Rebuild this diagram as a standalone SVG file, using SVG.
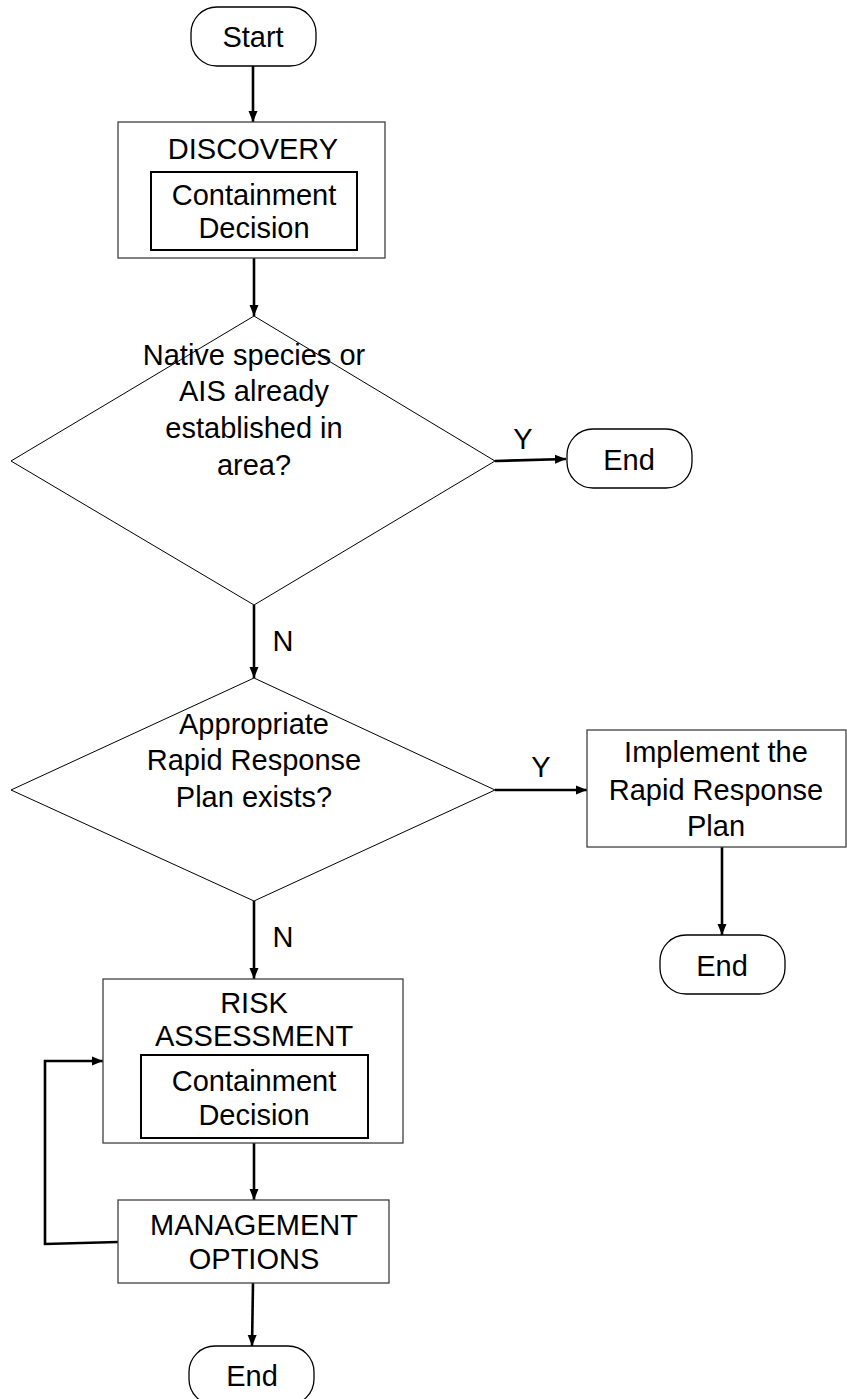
<svg xmlns="http://www.w3.org/2000/svg" width="847" height="1399" viewBox="0 0 847 1399">
  <style>
    text { font-family: "Liberation Sans", Arial, sans-serif; font-size: 29px; fill: #000; text-anchor: middle; dominant-baseline: central; }
    .box { fill: #fff; stroke: #404040; stroke-width: 1.3; }
    .inner { fill: #fff; stroke: #000; stroke-width: 2; }
    .term { fill: #fff; stroke: #000; stroke-width: 1.3; }
    .dia { fill: #fff; stroke: #000; stroke-width: 1; }
    .edge { fill: none; stroke: #000; stroke-width: 2.6; marker-end: url(#arrow); }
  </style>
  <defs>
    <marker id="arrow" markerUnits="userSpaceOnUse" markerWidth="12" markerHeight="12" viewBox="0 0 12 12" refX="11" refY="6" orient="auto">
      <path d="M0,1.5 L11,6 L0,10.5 Z" fill="#000"/>
    </marker>
  </defs>

  <!-- connectors and their Y/N labels -->
  <g id="connectors">
    <line class="edge" x1="253" y1="66" x2="253" y2="122"/>
    <line class="edge" x1="254" y1="258" x2="254" y2="316"/>
    <line class="edge" x1="495" y1="461" x2="566" y2="459"/>
    <line class="edge" x1="254" y1="605" x2="254" y2="678"/>
    <line class="edge" x1="495" y1="790" x2="587" y2="790"/>
    <line class="edge" x1="722" y1="847" x2="722" y2="935"/>
    <line class="edge" x1="254" y1="901" x2="254" y2="979"/>
    <line class="edge" x1="254" y1="1143" x2="254" y2="1200"/>
    <line class="edge" x1="253" y1="1283" x2="252" y2="1346"/>
    <path class="edge" d="M118,1242 L45,1244 L45,1061 L103,1061"/>
    <text x="523" y="439">Y</text>
    <text x="283" y="641">N</text>
    <text x="541" y="767">Y</text>
    <text x="283" y="937">N</text>
  </g>

  <g id="start">
    <rect class="term" x="191" y="7" width="125" height="59" rx="26" ry="26"/>
    <text x="253" y="37">Start</text>
  </g>

  <g id="discovery">
    <rect class="box" x="118" y="122" width="267" height="136"/>
    <text x="253" y="149">DISCOVERY</text>
    <rect class="inner" x="151" y="172" width="206" height="78"/>
    <text x="254" y="195">Containment</text>
    <text x="254" y="228">Decision</text>
  </g>

  <g id="decision-established">
    <polygon class="dia" points="254,316 495,461 254,605 11,461"/>
    <text x="254" y="355">Native species or</text>
    <text x="254" y="391">AIS already</text>
    <text x="254" y="428">established in</text>
    <text x="254" y="465">area?</text>
  </g>

  <g id="end-established">
    <rect class="term" x="567" y="429" width="125" height="59" rx="26" ry="26"/>
    <text x="629" y="460">End</text>
  </g>

  <g id="decision-plan">
    <polygon class="dia" points="254,678 495,790 254,901 11,790"/>
    <text x="254" y="724">Appropriate</text>
    <text x="254" y="760">Rapid Response</text>
    <text x="254" y="797">Plan exists?</text>
  </g>

  <g id="implement-plan">
    <rect class="box" x="587" y="730" width="259" height="117"/>
    <text x="716" y="752">Implement the</text>
    <text x="716" y="790">Rapid Response</text>
    <text x="716" y="826">Plan</text>
  </g>

  <g id="end-plan">
    <rect class="term" x="660" y="935" width="125" height="59" rx="26" ry="26"/>
    <text x="722" y="966">End</text>
  </g>

  <g id="risk-assessment">
    <rect class="box" x="103" y="979" width="300" height="164"/>
    <text x="254" y="1003">RISK</text>
    <text x="254" y="1036">ASSESSMENT</text>
    <rect class="inner" x="141" y="1055" width="227" height="83"/>
    <text x="254" y="1081">Containment</text>
    <text x="254" y="1115">Decision</text>
  </g>

  <g id="management-options">
    <rect class="box" x="118" y="1200" width="271" height="83"/>
    <text x="254" y="1225">MANAGEMENT</text>
    <text x="254" y="1259">OPTIONS</text>
  </g>

  <g id="end-final">
    <rect class="term" x="189" y="1346" width="125" height="59" rx="26" ry="26"/>
    <text x="252" y="1376">End</text>
  </g>
</svg>
